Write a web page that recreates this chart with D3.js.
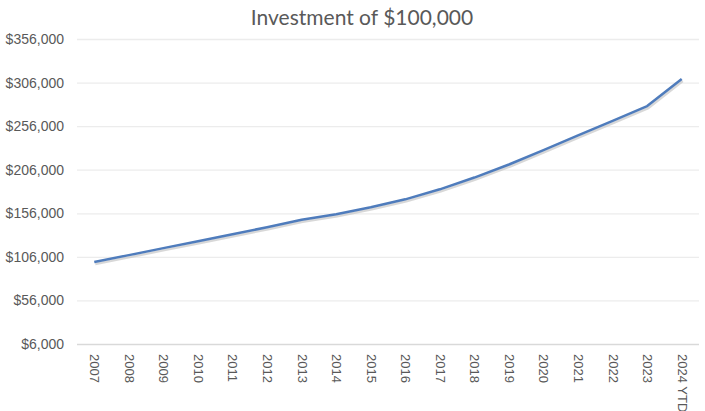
<html>
<body style="margin:0;background:#fff">
<meta charset="utf-8">
<script src="https://d3js.org/d3.v7.min.js"></script>
<div id="chart"></div>
<script>
    // categories and values
    var years = ["2007", "2008", "2009", "2010", "2011", "2012", "2013", "2014", "2015",
                 "2016", "2017", "2018", "2019", "2020", "2021", "2022", "2023", "2024 YTD"];
    var values = [100000, 108000, 116000, 124000, 132000, 140000, 148500, 155000, 163000,
                  172000, 183500, 197000, 212000, 228500, 245500, 262000, 279000, 310000];
    var yTicks = [6000, 56000, 106000, 156000, 206000, 256000, 306000, 356000];

    var margin = {top: 39, right: 6, bottom: 67, left: 77},
        width = 705 - margin.left - margin.right,
        height = 411 - margin.top - margin.bottom;

    var svg = d3.select("#chart")
      .append("svg")
        .attr("width", 705)
        .attr("height", 411)
        .style("font-family", "Lato, 'Open Sans', sans-serif");

    svg.append("text")
      .attr("x", 362)
      .attr("y", 25)
      .attr("text-anchor", "middle")
      .attr("fill", "#595959")
      .style("font-size", "21px")
      .text("Investment of $100,000");

    var g = svg.append("g")
      .attr("transform", "translate(" + margin.left + "," + margin.top + ")");

    var x = d3.scalePoint()
      .domain(years)
      .range([0, width])
      .padding(0.5);

    var y = d3.scaleLinear()
      .domain([6000, 356000])
      .range([height, 0]);

    // gridlines + y labels
    var yAxis = g.append("g")
      .call(d3.axisLeft(y).tickValues(yTicks).tickSize(-width)
        .tickFormat(function(d) { return "$" + d3.format(",")(d); }));
    yAxis.select(".domain").remove();
    yAxis.selectAll(".tick line")
      .attr("stroke", function(d) { return d === 6000 ? "#d9d9d9" : "#ececec"; })
      .attr("stroke-width", 1.3);
    yAxis.selectAll(".tick text")
      .attr("x", -13)
      .attr("fill", "#595959")
      .style("font-size", "14px");

    // x labels, rotated
    var xAxis = g.append("g")
      .attr("transform", "translate(0," + height + ")")
      .call(d3.axisBottom(x).tickSize(0));
    xAxis.select(".domain").remove();
    xAxis.selectAll(".tick text")
      .attr("transform", "rotate(90)")
      .attr("x", 10)
      .attr("y", 0)
      .attr("dy", "0.35em")
      .attr("text-anchor", "start")
      .attr("fill", "#595959")
      .style("font-size", "13px");

    var line = d3.line()
      .x(function(d, i) { return x(years[i]); })
      .y(function(d) { return y(d); });

    // soft shadow under the line
    g.append("path")
      .datum(values)
      .attr("d", line)
      .attr("transform", "translate(1,2)")
      .attr("fill", "none")
      .attr("stroke", "#c8c8c8")
      .attr("stroke-width", 2.5)
      .attr("opacity", 0.7);

    g.append("path")
      .datum(values)
      .attr("d", line)
      .attr("fill", "none")
      .attr("stroke", "#4f7cbc")
      .attr("stroke-width", 2.5)
      .attr("stroke-linejoin", "round");
</script>
</body>
</html>
